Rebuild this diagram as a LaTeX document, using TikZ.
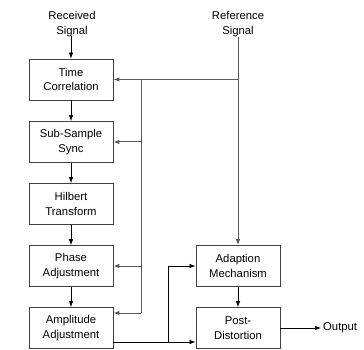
\documentclass[tikz,border=0pt]{standalone}
\usepackage{fontspec}
\setmainfont{Liberation Sans}
\usetikzlibrary{arrows.meta}
\begin{document}
\begin{tikzpicture}[x=1pt,y=-1pt,
  blk/.style={draw=black!75,line width=0.8pt,minimum width=84pt,minimum height=41pt,align=center,inner sep=0pt,font=\fontsize{11.3}{14.5}\selectfont},
  lbl/.style={align=center,inner sep=0pt,font=\fontsize{11.3}{14.5}\selectfont},
  arr/.style={line width=0.7pt,-{Latex[length=6pt,width=4.5pt]}},
  fb/.style={draw=black!65,line width=1pt},
  fbarr/.style={fb,-{Latex[length=6pt,width=4.5pt]}}]
\useasboundingbox (0,0) rectangle (364,350);
\node[blk] (tc) at (71,79.5) {Time\\Correlation};
\node[blk] (ss) at (71,142) {Sub-Sample\\Sync};
\node[blk] (ht) at (71,204) {Hilbert\\Transform};
\node[blk] (pa) at (71,266) {Phase\\Adjustment};
\node[blk] (aa) at (71,328) {Amplitude\\Adjustment};
\node[blk] (am) at (238,266) {Adaption\\Mechanism};
\node[blk] (pd) at (238,328) {Post-\\Distortion};
\node[lbl] (rx) at (72,24) {Received\\Signal};
\node[lbl] (ref) at (238,24) {Reference\\Signal};
\node[lbl,anchor=west,inner xsep=2pt] (out) at (321,328) {Output};
% main chain
\draw[arr] (71,36) -- (tc.north);
\draw[arr] (tc) -- (ss);
\draw[arr] (ss) -- (ht);
\draw[arr] (ht) -- (pa);
\draw[arr] (pa) -- (aa);
% reference signal
\coordinate (rj) at (238,79.5);
\coordinate (fj) at (141,79.5);
\coordinate (fe) at (141,313);
\draw[fbarr] (238,37) -- (am.north);
\draw[fbarr] (rj) -- (tc.east);
\draw[fb] (fj) -- (fe);
\draw[fbarr] (fj |- ss.east) -- (ss.east);
\draw[fbarr] (fj |- pa.east) -- (pa.east);
\draw[fbarr] (fe) -- (aa.east |- fe);
% amplitude to post-distortion
\coordinate (ao) at (113,342);
\coordinate (bj) at (168,342);
\draw[arr] (ao) -- (pd.west |- ao);
\draw[arr] (bj) -- (168,266) -- (am.west);
\draw[arr] (am) -- (pd);
\draw[arr] (pd.east) -- (out.west |- pd.east);
\end{tikzpicture}
\end{document}
